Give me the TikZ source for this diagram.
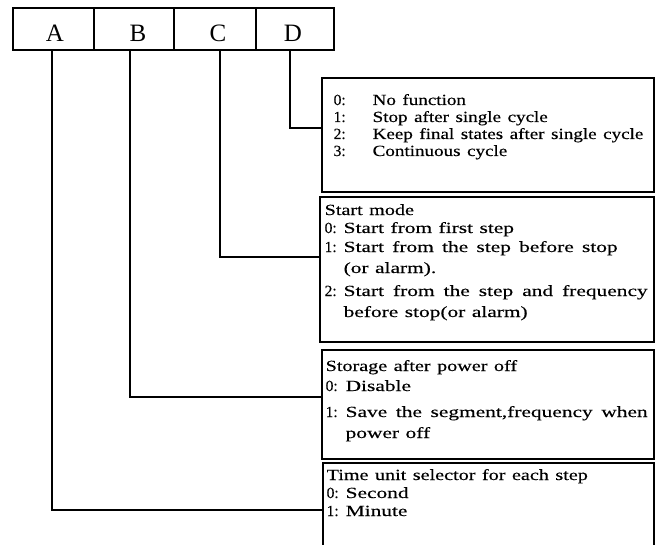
\documentclass[tikz,border=0pt]{standalone}
\usepackage{fontspec}
\setmainfont{Liberation Serif}
\newfontfamily\widefont[FakeStretch=1.23,FakeBold=0.3]{Liberation Serif}
\newfontfamily\headfont[FakeStretch=1.3,FakeBold=0.3]{Liberation Serif}
\newfontfamily\itemfont[FakeStretch=1.38,FakeBold=0.3]{Liberation Serif}
\newfontfamily\numberfont[FakeBold=0.2]{Liberation Serif}
\newcommand\descfont{\widefont\fontsize{15.5}{17}\selectfont\spaceskip=6.5pt plus 2pt\relax}
\newcommand\hdfont{\headfont\fontsize{15.5}{17}\selectfont\spaceskip=6.5pt plus 2pt\relax}
\newcommand\itfont{\itemfont\fontsize{15.5}{17}\selectfont\spaceskip=6.5pt plus 2pt\relax}
\newcommand\numfont{\numberfont\fontsize{15.5}{17}\selectfont}
\begin{document}
\begin{tikzpicture}[x=1pt,y=-1pt,
  line width=1.3pt,
  cell/.style={draw, minimum height=42pt, inner sep=0pt},
  letter/.style={inner sep=0pt, font=\fontsize{25}{25}\selectfont},
  descbox/.style={draw, inner sep=0pt},
  txt/.style={anchor=base west, inner sep=0pt, font=\descfont},
  htxt/.style={anchor=base west, inner sep=0pt, font=\hdfont},
  itxt/.style={anchor=base west, inner sep=0pt, font=\itfont},
  ntxt/.style={anchor=base west, inner sep=0pt, font=\numfont},
  lead/.style={line width=1.3pt}]
\useasboundingbox (0,0) rectangle (660,545);
% top register
\node[cell, minimum width=81pt] (ca) at (53.5,29) {};
\node[cell, minimum width=80pt] (cb) at (134,29) {};
\node[cell, minimum width=82pt] (cc) at (215,29) {};
\node[cell, minimum width=78pt] (cd) at (295,29) {};
\node[letter] (la) at (55,33) {A};
\node[letter] (lb) at (138,33) {B};
\node[letter] (lc) at (218,33) {C};
\node[letter] (ld) at (293,33) {D};
% description boxes
\node[descbox, minimum width=332pt, minimum height=114pt] (bd) at (488,135) {};
\node[descbox, minimum width=334pt, minimum height=145pt] (bc) at (487,269.5) {};
\node[descbox, minimum width=332pt, minimum height=109pt] (bb) at (488,404.5) {};
\node[descbox, minimum width=331pt, minimum height=97pt] (ba) at (488.5,511.5) {};
% D texts
\node[ntxt] (d0n) at (333,105) {0:};
\node[txt] (d0t) at (372,105) {No function};
\node[ntxt] (d1n) at (333,122) {1:};
\node[txt] (d1t) at (372,122) {Stop after single cycle};
\node[ntxt] (d2n) at (333,139) {2:};
\node[txt] (d2t) at (372,139) {Keep final states after single cycle};
\node[ntxt] (d3n) at (333,156) {3:};
\node[txt] (d3t) at (372,156) {Continuous cycle};
% C texts
\node[htxt] (ch) at (324,215) {Start mode};
\node[ntxt] (c0n) at (324,233) {0:};
\node[itxt] (c0t) at (343,233) {Start from first step};
\node[ntxt] (c1n) at (324,252) {1:};
\node[itxt] (c1t) at (343,252) {\makebox[274pt][s]{Start from the step before stop}};
\node[itxt] (c1u) at (343,273) {(or alarm).};
\node[ntxt] (c2n) at (324,296) {2:};
\node[itxt] (c2t) at (343,296) {\makebox[304pt][s]{Start from the step and frequency}};
\node[itxt] (c2u) at (343,317) {before stop(or alarm)};
% B texts
\node[htxt] (bh) at (325,371) {Storage after power off};
\node[ntxt] (b0n) at (325,391) {0:};
\node[itxt] (b0t) at (345,391) {Disable};
\node[ntxt] (b1n) at (325,417) {1:};
\node[itxt] (b1t) at (345,417) {\makebox[302pt][s]{Save the segment,frequency when}};
\node[itxt] (b1u) at (345,438) {power off};
% A texts
\node[htxt] (ah) at (326,480) {Time unit selector for each step};
\node[ntxt] (a0n) at (326,498) {0:};
\node[itxt] (a0t) at (345,498) {Second};
\node[ntxt] (a1n) at (326,516) {1:};
\node[itxt] (a1t) at (345,516) {Minute};
% leads
\coordinate (ja) at (52,510);
\coordinate (jb) at (130,397);
\coordinate (jc) at (220,257);
\coordinate (jd) at (290,128);
\draw[lead] (ca.south -| ja) -- (ja) -- (ja -| ba.west);
\draw[lead] (cb.south -| jb) -- (jb) -- (jb -| bb.west);
\draw[lead] (cc.south -| jc) -- (jc) -- (jc -| bc.west);
\draw[lead] (cd.south -| jd) -- (jd) -- (jd -| bd.west);
\end{tikzpicture}
\end{document}
